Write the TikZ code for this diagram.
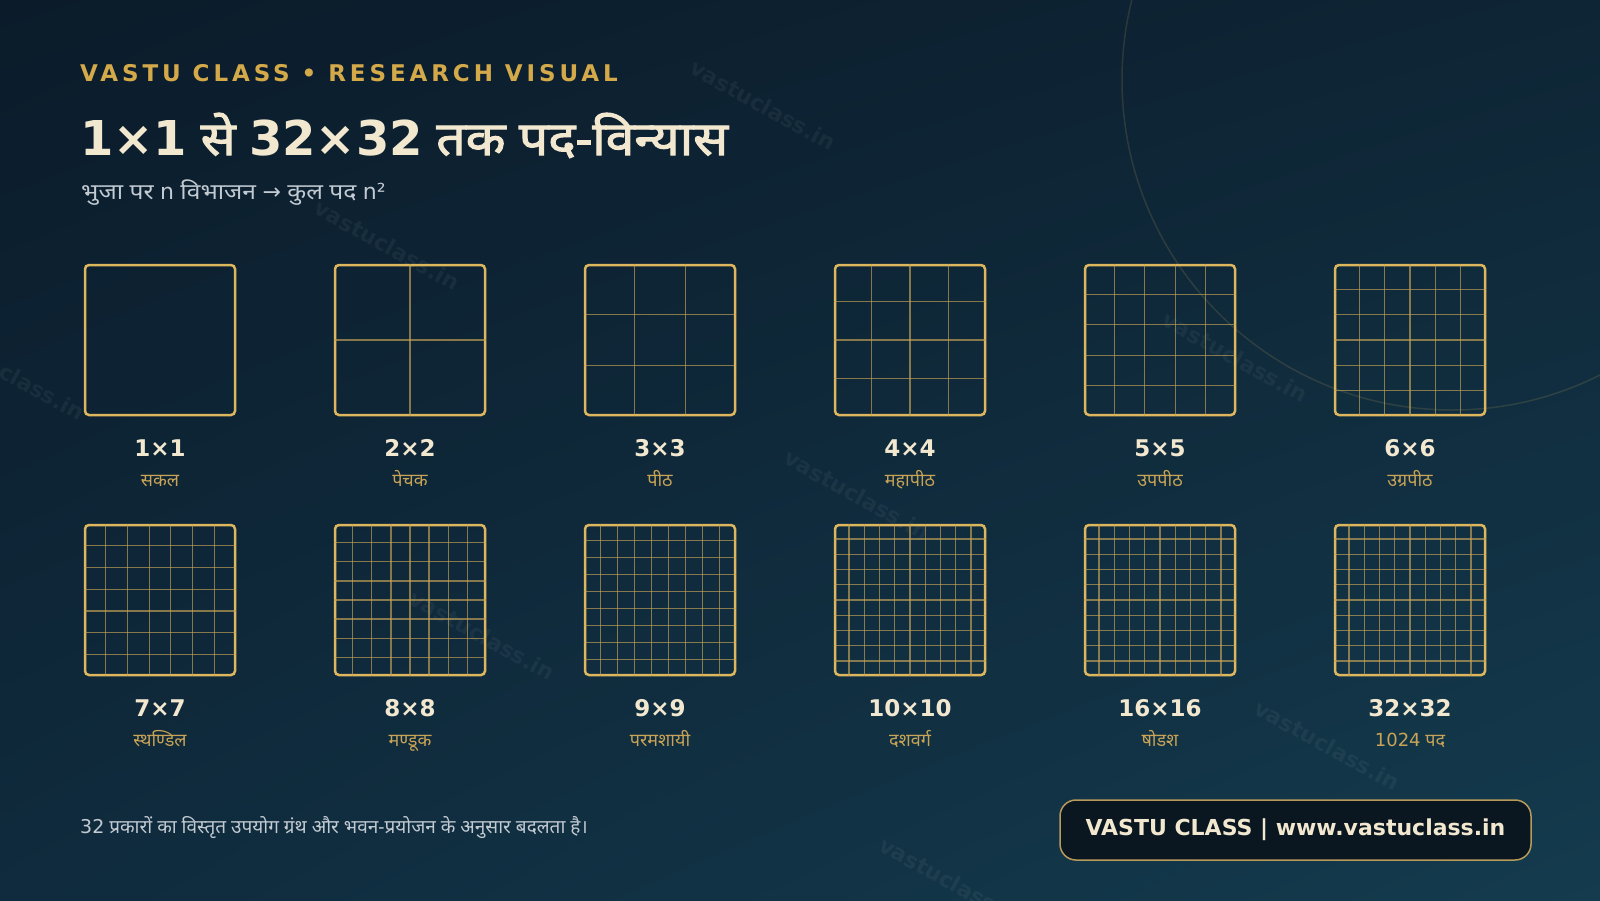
\documentclass[tikz,border=0pt]{standalone}
\usepackage{fontspec}
\setmainfont{DejaVu Sans}
\newfontfamily\hindi[Script=Devanagari]{Noto Sans}
\newfontfamily\hindiwide[Script=Devanagari, FakeStretch=1.12]{Noto Sans}
\newfontfamily\hindibold[Script=Devanagari, FakeBold=2.2, FakeStretch=1.10]{Noto Sans}
\newfontfamily\spaced[LetterSpace=17]{DejaVu Sans}
\newcommand\lat[1]{{\normalfont #1}}
\newcommand\latb[1]{{\normalfont\bfseries\fontsize{48}{48}\selectfont #1}}
\usetikzlibrary{calc,shadings}
\definecolor{bgA}{HTML}{0B1B2A}
\definecolor{bgB}{HTML}{0E2535}
\definecolor{bgC}{HTML}{0F2B3D}
\definecolor{bgD}{HTML}{143B4E}
\definecolor{gold}{HTML}{D4A94A}
\definecolor{boxgold}{HTML}{DDB65E}
\definecolor{linegold}{HTML}{C8A457}
\definecolor{namegold}{HTML}{C9A456}
\definecolor{cream}{HTML}{F2E8D0}
\definecolor{subgray}{HTML}{C2CAD2}
\definecolor{btnfill}{HTML}{0A1620}
\definecolor{btnedge}{HTML}{B89A5A}
\tikzset{pd/.style={draw=boxgold, line width=2.5pt, rounded corners=4pt, minimum size=150pt, inner sep=0pt}}
\tikzset{gl/.style={draw=linegold, draw opacity=0.65, line width=1.2pt}}
\tikzset{lb/.style={anchor=base, font=\fontsize{23}{23}\selectfont\bfseries, text=cream}}
\tikzset{nm/.style={anchor=base, font=\hindi\fontsize{18}{18}\selectfont, text=namegold}}
\tikzset{wm/.style={font=\fontsize{22}{22}\selectfont\bfseries, text=white, text opacity=0.05, rotate=-29}}

\begin{document}
\begin{tikzpicture}[x=1pt, y=-1pt]
                % background
                \shade[upper left=bgA, upper right=bgB, lower left=bgC, lower right=bgD] (0,0) rectangle (1600,900);
                \useasboundingbox (0,0) rectangle (1600,900);
                \draw[boxgold, draw opacity=0.15, line width=1.5pt] (1452,80) circle (330);
                % watermarks
                \node[wm] (w1) at (763,105) {vastuclass.in};
                \node[wm] (w2) at (387,245) {vastuclass.in};
                \node[wm] (w3) at (1235,357) {vastuclass.in};
                \node[wm] (w4) at (12,375) {vastuclass.in};
                \node[wm] (w5) at (857,495) {vastuclass.in};
                \node[wm] (w6) at (482,635) {vastuclass.in};
                \node[wm] (w7) at (1327,745) {vastuclass.in};
                \node[wm] (w8) at (952,882) {vastuclass.in};
                % heading
                \node[anchor=west, inner sep=0, text=gold, font=\spaced\fontsize{23}{23}\selectfont\bfseries] (hd) at (80,73) {VASTU CLASS • RESEARCH VISUAL};
                \node[anchor=base west, inner sep=0, text=cream, font=\hindibold\fontsize{47}{47}\selectfont] (tt) at (80,155) {\latb{1×1} से \latb{32×32} तक पद-विन्यास};
                \node[anchor=base west, inner sep=0, text=subgray, font=\hindiwide\fontsize{22}{22}\selectfont] (st) at (81,199) {भुजा पर \lat{n} विभाजन \lat{→} कुल पद \lat{n²}};
                % pada boxes
                \node[pd] (b1) at (160,340) {};
                \node[pd] (b2) at (410,340) {};
                \node[pd] (b3) at (660,340) {};
                \node[pd] (b4) at (910,340) {};
                \node[pd] (b5) at (1160,340) {};
                \node[pd] (b6) at (1410,340) {};
                \node[pd] (b7) at (160,600) {};
                \node[pd] (b8) at (410,600) {};
                \node[pd] (b9) at (660,600) {};
                \node[pd] (b10) at (910,600) {};
                \node[pd] (b16) at (1160,600) {};
                \node[pd] (b32) at (1410,600) {};
                \foreach \b/\n in {b2/2,b3/3,b4/4,b5/5,b6/6,b7/7,b8/8,b9/9,b10/10,b16/10,b32/10}{
                    \pgfmathtruncatemacro\m{\n-1}
                    \foreach \i in {1,...,\m}{
                        \draw[gl] ($(\b.north west)!\i/\n!(\b.north east)$) -- ($(\b.south west)!\i/\n!(\b.south east)$);
                        \draw[gl] ($(\b.north west)!\i/\n!(\b.south west)$) -- ($(\b.north east)!\i/\n!(\b.south east)$);
                    }
                }
                % labels
                \node[lb] (l1) at (160,456) {1×1};
                \node[lb] (l2) at (410,456) {2×2};
                \node[lb] (l3) at (660,456) {3×3};
                \node[lb] (l4) at (910,456) {4×4};
                \node[lb] (l5) at (1160,456) {5×5};
                \node[lb] (l6) at (1410,456) {6×6};
                \node[lb] (l7) at (160,716) {7×7};
                \node[lb] (l8) at (410,716) {8×8};
                \node[lb] (l9) at (660,716) {9×9};
                \node[lb] (l10) at (910,716) {10×10};
                \node[lb] (l16) at (1160,716) {16×16};
                \node[lb] (l32) at (1410,716) {32×32};
                \node[nm] (n1) at (160,486) {सकल};
                \node[nm] (n2) at (410,486) {पेचक};
                \node[nm] (n3) at (660,486) {पीठ};
                \node[nm] (n4) at (910,486) {महापीठ};
                \node[nm] (n5) at (1160,486) {उपपीठ};
                \node[nm] (n6) at (1410,486) {उग्रपीठ};
                \node[nm] (n7) at (160,746) {स्थण्डिल};
                \node[nm] (n8) at (410,746) {मण्डूक};
                \node[nm] (n9) at (660,746) {परमशायी};
                \node[nm] (n10) at (910,746) {दशवर्ग};
                \node[nm] (n16) at (1160,746) {षोडश};
                \node[nm] (n32) at (1410,746) {\lat{1024} पद};
                % footer
                \node[anchor=west, inner sep=0, text=subgray, font=\hindi\fontsize{19}{19}\selectfont] (ft) at (80,828) {\lat{32} प्रकारों का विस्तृत उपयोग ग्रंथ और भवन-प्रयोजन के अनुसार बदलता है।};
                \node[draw=btnedge, fill=btnfill, line width=1.5pt, rounded corners=16pt, minimum width=471pt, minimum height=60pt, text=cream, font=\fontsize{22}{22}\selectfont\bfseries] (bt) at (1295.5,830) {VASTU CLASS | www.vastuclass.in};
            \end{tikzpicture}
\end{document}
